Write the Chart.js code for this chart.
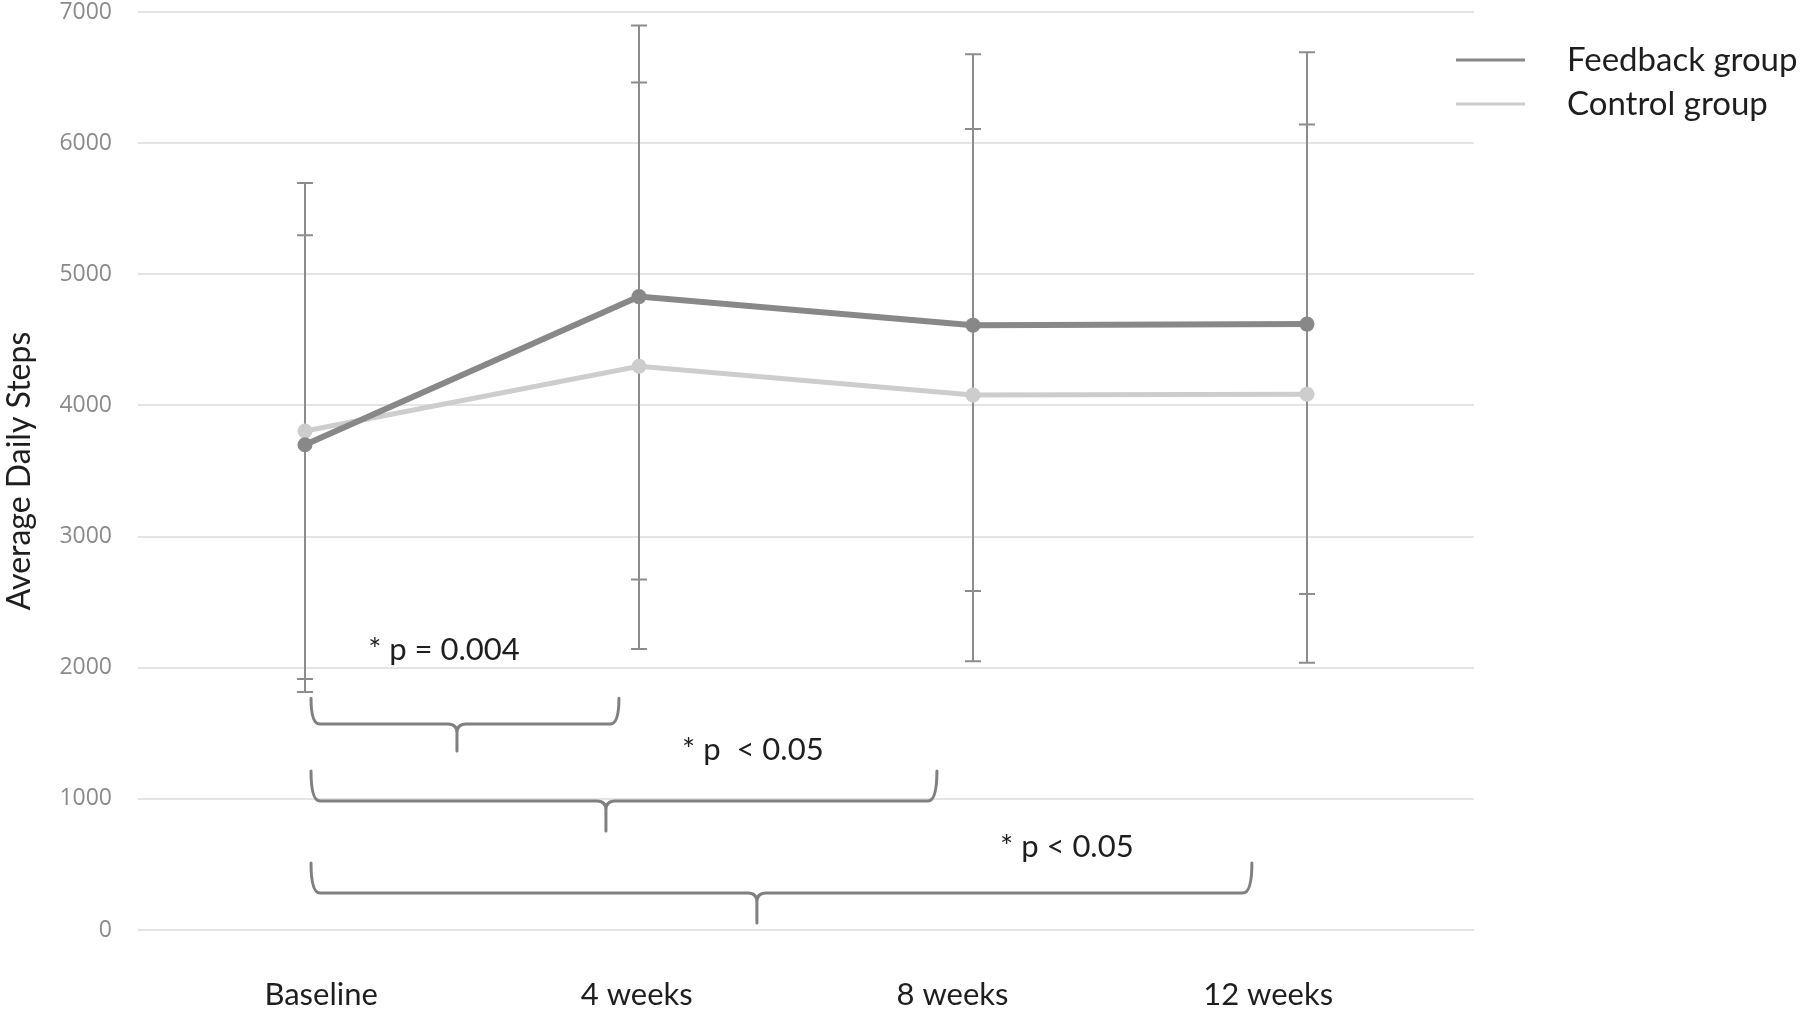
<!DOCTYPE html>
<html>
<head>
<meta charset="utf-8">
<script src="https://cdn.jsdelivr.net/npm/chart.js@4.4.1/dist/chart.umd.min.js"></script>
<style>
  html, body { margin: 0; padding: 0; background: #fff; }
  canvas { display: block; }
</style>
</head>
<body>
<canvas id="chartSteps" width="1800" height="1009"></canvas>
<script>
const categories = ['Baseline', '4 weeks', '8 weeks', '12 weeks'];
const feedbackMean = [3700, 4830, 4612, 4620];
const feedbackUpper = [5297, 6898, 6678, 6693];
const feedbackLower = [1814, 2672, 2585, 2563];
const controlMean = [3805, 4299, 4080, 4086];
const controlUpper = [5696, 6463, 6108, 6142];
const controlLower = [1913, 2142, 2050, 2038];
const yTicks = [0, 1000, 2000, 3000, 4000, 5000, 6000, 7000];

// significance brackets: span on the category axis, heights in steps
const bracketFrom = [0.018, 0.018, 0.018];
const bracketTo = [0.94, 1.892, 2.835];
const bracketTip = [0.455, 0.901, 1.353];
const bracketTop = [1768, 1212, 511];
const bracketLine = [1570, 983, 282];
const bracketBottom = [1364, 755, 53];
const pLabels = ['* p = 0.004', '* p  < 0.05', '* p < 0.05'];
const pLabelX = [0.189, 1.129, 2.081];
const pLabelY = [2134, 1372, 633];

const textColor = '#1e1e1e';
const tickColor = '#8a8a8a';
const barColor = '#8c8c8c';

const errorBars = {
  id: 'errorBars',
  beforeDatasetsDraw(chart) {
    const { ctx, scales: { x, y } } = chart;
    ctx.save();
    ctx.strokeStyle = barColor;
    ctx.lineWidth = 2;
    [[feedbackUpper, feedbackLower], [controlUpper, controlLower]].forEach(([up, lo]) => {
      up.forEach((v, i) => {
        const px = x.getPixelForValue(i);
        const top = y.getPixelForValue(v);
        const bot = y.getPixelForValue(lo[i]);
        ctx.beginPath();
        ctx.moveTo(px, top); ctx.lineTo(px, bot);
        ctx.moveTo(px - 8, top); ctx.lineTo(px + 8, top);
        ctx.moveTo(px - 8, bot); ctx.lineTo(px + 8, bot);
        ctx.stroke();
      });
    });
    ctx.restore();
  }
};

const brackets = {
  id: 'brackets',
  afterDatasetsDraw(chart) {
    const { ctx, scales: { x, y } } = chart;
    const xp = v => x.left + (v + 0.5) * (x.width / categories.length);
    ctx.save();
    ctx.strokeStyle = '#808080';
    ctx.lineWidth = 3;
    ctx.lineCap = 'round';
    const r = 9;
    bracketFrom.forEach((from, i) => {
      const x0 = xp(from), x1 = xp(bracketTo[i]), xt = xp(bracketTip[i]);
      const top = y.getPixelForValue(bracketTop[i]);
      const line = y.getPixelForValue(bracketLine[i]);
      const tip = y.getPixelForValue(bracketBottom[i]);
      ctx.beginPath();
      ctx.moveTo(x0, top);
      ctx.quadraticCurveTo(x0, line, x0 + r, line);
      ctx.lineTo(xt - r, line);
      ctx.quadraticCurveTo(xt, line, xt, line + r);
      ctx.lineTo(xt, tip);
      ctx.moveTo(x1, top);
      ctx.quadraticCurveTo(x1, line, x1 - r, line);
      ctx.lineTo(xt + r, line);
      ctx.quadraticCurveTo(xt, line, xt, line + r);
      ctx.stroke();
    });
    ctx.fillStyle = textColor;
    ctx.font = '31px Lato';
    ctx.textBaseline = 'middle';
    ctx.textAlign = 'left';
    pLabels.forEach((t, i) => {
      ctx.fillText(t, xp(pLabelX[i]), y.getPixelForValue(pLabelY[i]));
    });
    ctx.restore();
  }
};

const sideLegend = {
  id: 'sideLegend',
  afterDraw(chart) {
    const { ctx } = chart;
    ctx.save();
    ctx.font = '33px Lato';
    ctx.textBaseline = 'middle';
    ctx.fillStyle = textColor;
    chart.data.datasets.forEach((ds, i) => {
      const ly = 60 + i * 44;
      ctx.strokeStyle = ds.borderColor;
      ctx.lineWidth = 3;
      ctx.beginPath();
      ctx.moveTo(1456, ly);
      ctx.lineTo(1525, ly);
      ctx.stroke();
      ctx.fillText(ds.label, 1567, ly);
    });
    ctx.restore();
  }
};

new Chart(document.getElementById('chartSteps'), {
  type: 'line',
  data: {
    labels: categories,
    datasets: [{
      label: 'Feedback group',
      data: feedbackMean,
      borderColor: '#888888',
      backgroundColor: '#888888',
      borderWidth: 6,
      pointRadius: 7.5,
      pointBorderWidth: 0,
      pointBackgroundColor: '#888888'
    }, {
      label: 'Control group',
      data: controlMean,
      borderColor: '#cdcdcd',
      backgroundColor: '#cdcdcd',
      borderWidth: 5,
      pointRadius: 7.5,
      pointBorderWidth: 0,
      pointBackgroundColor: '#cdcdcd'
    }]
  },
  options: {
    responsive: false,
    devicePixelRatio: 1,
    animation: false,
    layout: { padding: { top: 12, right: 326, bottom: 0, left: 0 } },
    scales: {
      x: { display: false, offset: true },
      x2: {
        type: 'linear',
        position: 'bottom',
        min: -0.58,
        max: 3.652,
        grid: { display: false, drawTicks: false },
        border: { display: false },
        afterBuildTicks: s => { s.ticks = categories.map((_, i) => ({ value: i })); },
        afterFit: s => { s.height = 79; s.paddingLeft = 0; s.paddingRight = 0; },
        ticks: {
          padding: 46,
          color: textColor,
          font: { family: 'Lato', size: 31 },
          callback: v => categories[v]
        }
      },
      y: {
        min: 0,
        max: 7000,
        afterBuildTicks: s => { s.ticks = yTicks.map(v => ({ value: v })); },
        afterFit: s => { s.width = 138; s.paddingTop = 0; s.paddingBottom = 0; },
        grid: { color: '#e4e4e4', lineWidth: 2, drawTicks: false },
        border: { display: false },
        ticks: {
          padding: 26,
          color: tickColor,
          font: { family: 'Open Sans', size: 23, lineHeight: 1 },
          callback: v => String(v)
        },
        title: {
          display: true,
          text: 'Average Daily Steps',
          color: textColor,
          padding: { top: 0, bottom: 0 },
          font: { family: 'Lato', size: 32 }
        }
      }
    },
    plugins: { legend: { display: false }, tooltip: { enabled: false } }
  },
  plugins: [errorBars, brackets, sideLegend]
});
</script>
</body>
</html>
